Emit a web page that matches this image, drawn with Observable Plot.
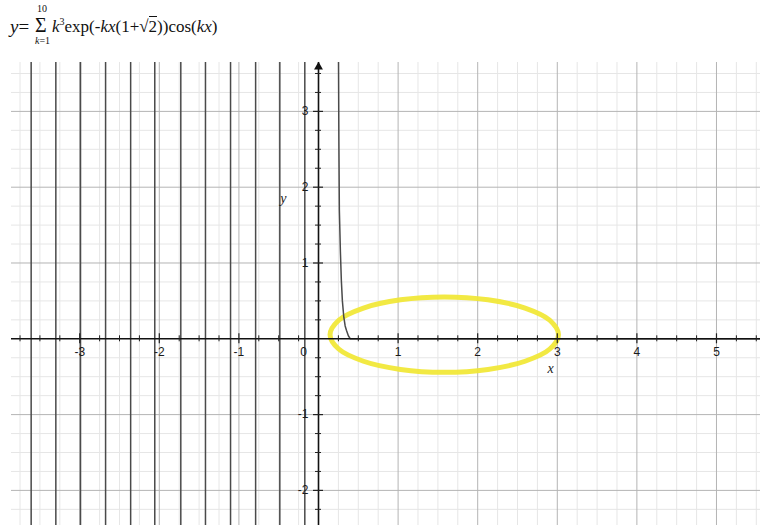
<!DOCTYPE html>
<html>
<head>
<meta charset="utf-8">
<script src="https://cdn.jsdelivr.net/npm/d3@7"></script>
<script src="https://cdn.jsdelivr.net/npm/@observablehq/plot@0.6"></script>
<style>
  body { margin: 0; background: #fff; }
  #title { position: relative; width: 760px; height: 50px; font-family: "Liberation Serif", "Times New Roman", serif; font-size: 17px; color: #111; }
  #title .p { position: absolute; white-space: nowrap; line-height: 1; }
  .ov { border-top: 1px solid #111; }
  .sup { font-size: 10px; position: relative; top: -7px; }
</style>
</head>
<body>
<div id="title">
  <span class="p" style="left:10px;top:17px;font-size:19px"><i>y</i>=</span>
  <span class="p" style="left:37px;top:4px;font-size:10px">10</span>
  <span class="p" style="left:35px;top:17px;font-size:20px;line-height:0.85">&Sigma;</span>
  <span class="p" style="left:35px;top:36px;font-size:10px"><i>k</i>=1</span>
  <span class="p" style="left:52px;top:18px"><i>k</i><span class="sup">3</span>exp(-<i>kx</i>(1+&radic;<span class="ov">2</span>))cos(<i>kx</i>)</span>
</div>
<div id="chart"></div>
<script>
// Sign changes of the sum on the negative side: the k = 10 term dominates and
// the curve jumps from far above the frame to far below at each of these x.
const crossingX = [-3.61, -3.30, -2.99, -2.675, -2.36, -2.057, -1.73, -1.42, -1.105, -0.79, -0.486, -0.172];
const offScale = 1000;

// Right branch of the curve, coming down from above the frame and settling on 0.
const curveX = [0.10, 0.20, 0.25, 0.256, 0.262, 0.275, 0.287, 0.300, 0.318, 0.335, 0.352, 0.375, 0.40, 0.60, 5.60];
const curveY = [60, 12, 4.0, 2.6, 1.7, 1.15, 0.77, 0.50, 0.285, 0.17, 0.11, 0.04, 0.0, 0.0, 0.0];

// Highlight ring drawn around the flat part of the curve (points along its outline).
const ringX = [3.015, 2.906, 2.595, 2.129, 1.58, 1.031, 0.565, 0.254, 0.145, 0.254, 0.565, 1.031, 1.58, 2.129, 2.595, 2.906];
const ringY = [0.055, 0.245, 0.406, 0.514, 0.552, 0.514, 0.406, 0.245, 0.055, -0.135, -0.296, -0.404, -0.442, -0.404, -0.296, -0.135];

const xTickLabels = [-3, -2, -1, 1, 2, 3, 4, 5];
const yTickLabels = [-2, -1, 1, 2, 3];

const xDomain = [-3.857, 5.553];
const yDomain = [-2.463, 3.645];
const W = 760, H = 475, mL = 11, mR = 0, mT = 12, mB = 0;
const pxX = (W - mL - mR) / (xDomain[1] - xDomain[0]);
const pxY = (H - mT - mB) / (yDomain[1] - yDomain[0]);

// Build the polyline: vertical jumps at each crossing, joined off-frame.
const curve = [];
crossingX.forEach((x, i) => {
  const s = (crossingX.length - 1 - i) % 2 === 0 ? -1 : 1;
  curve.push({x, y: s * offScale}, {x, y: -s * offScale});
});
curveX.forEach((x, i) => curve.push({x, y: curveY[i]}));

const ring = ringX.map((x, i) => ({x, y: ringY[i]}));

const near = (a, b) => Math.abs(a - b) < 1e-9;
const quarterX = d3.range(-15, 23).map(i => i * 0.25).filter(v => v > xDomain[0] && v < xDomain[1]);
const quarterY = d3.range(-9, 15).map(i => i * 0.25).filter(v => v > yDomain[0] && v < yDomain[1]);
const minorX = quarterX.filter(v => !near(v, Math.round(v)));
const minorY = quarterY.filter(v => !near(v, Math.round(v)));
const majorX = quarterX.filter(v => near(v, Math.round(v)) && v !== 0);
const majorY = quarterY.filter(v => near(v, Math.round(v)) && v !== 0);

const tickMajor = 5, tickMinor = 3;

const chart = Plot.plot({
  width: W,
  height: H,
  marginLeft: mL,
  marginRight: mR,
  marginTop: mT,
  marginBottom: mB,
  x: {domain: xDomain, axis: null},
  y: {domain: yDomain, axis: null},
  style: {background: "#fff", fontFamily: "'Liberation Sans', Arial, sans-serif", fontSize: "12px"},
  marks: [
    Plot.gridX(minorX, {stroke: "#e6e6e6", strokeOpacity: 1, strokeWidth: 1}),
    Plot.gridY(minorY, {stroke: "#e6e6e6", strokeOpacity: 1, strokeWidth: 1}),
    Plot.gridX(majorX, {stroke: "#b4b4b4", strokeOpacity: 1, strokeWidth: 1}),
    Plot.gridY(majorY, {stroke: "#b4b4b4", strokeOpacity: 1, strokeWidth: 1}),
    Plot.line(ring, {x: "x", y: "y", curve: "catmull-rom-closed", stroke: "#f1e733", strokeWidth: 5, strokeOpacity: 0.92}),
    Plot.line(curve, {x: "x", y: "y", stroke: "#4a4a4a", strokeWidth: 1.5, clip: true}),
    // axes through the origin
    Plot.ruleY([0], {stroke: "#111", strokeWidth: 1.6}),
    Plot.ruleX([0], {stroke: "#111", strokeWidth: 1.6}),
    Plot.dot([0], {x: d => d, y: 3.586, symbol: "triangle", r: 3.3, fill: "#111", stroke: "none"}),
    // tick marks on the axes
    Plot.ruleX(minorX, {x: d => d, y1: -tickMinor / pxY, y2: tickMinor / pxY, stroke: "#222", strokeWidth: 1}),
    Plot.ruleX(majorX, {x: d => d, y1: -tickMajor / pxY, y2: tickMajor / pxY, stroke: "#222", strokeWidth: 1.2}),
    Plot.ruleY(minorY, {y: d => d, x1: -tickMinor / pxX, x2: tickMinor / pxX, stroke: "#222", strokeWidth: 1}),
    Plot.ruleY(majorY, {y: d => d, x1: -tickMajor / pxX, x2: tickMajor / pxX, stroke: "#222", strokeWidth: 1.2}),
    // tick labels
    Plot.text(xTickLabels, {x: d => d, y: 0, text: d => String(d), dy: 13, fill: "#1a1a1a"}),
    Plot.text(yTickLabels, {x: 0, y: d => d, text: d => String(d), textAnchor: "end", dx: -10, fill: "#1a1a1a"}),
    Plot.text(["0"], {x: 0, y: 0, text: d => d, dx: -15, dy: 13, fill: "#1a1a1a"}),
    // axis names
    Plot.text(["x"], {x: 2.915, y: -0.39, text: d => d, fontFamily: "'Liberation Serif', serif", fontStyle: "italic", fontSize: 14, fill: "#222"}),
    Plot.text(["y"], {x: -0.44, y: 1.85, text: d => d, fontFamily: "'Liberation Serif', serif", fontStyle: "italic", fontSize: 14, fill: "#222"})
  ]
});
document.getElementById("chart").appendChild(chart);
</script>
</body>
</html>
